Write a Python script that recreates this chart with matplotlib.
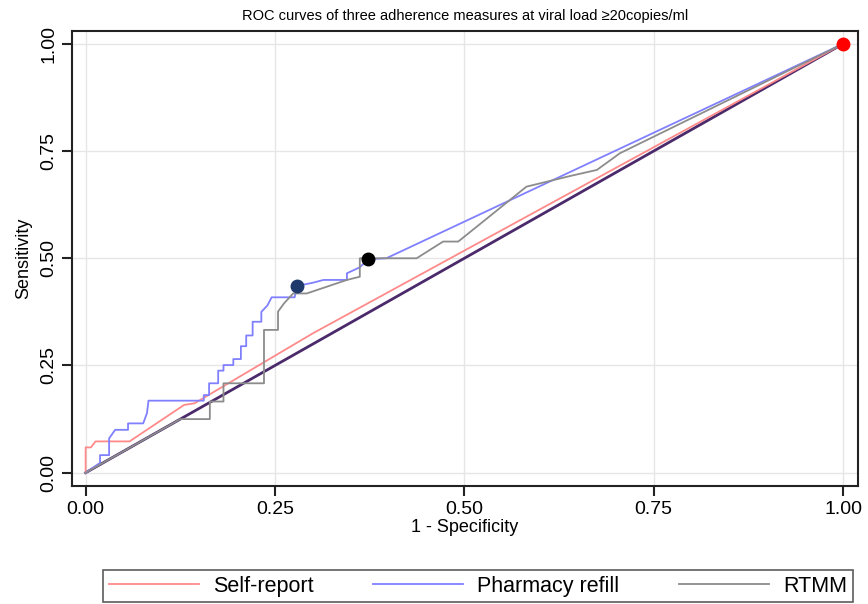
import matplotlib
matplotlib.use("Agg")
import matplotlib.pyplot as plt
from matplotlib import font_manager

# ROC points
self_fpr = [0.0, 0.0, 0.007, 0.013, 0.058, 0.13, 0.144, 0.30, 1.0]
self_tpr = [0.0, 0.059, 0.059, 0.073, 0.073, 0.158, 0.162, 0.325, 1.0]

pharm_fpr = [0.0, 0.019, 0.019, 0.031, 0.031, 0.039, 0.056, 0.056, 0.076, 0.081, 0.083,
             0.156, 0.156, 0.163, 0.163, 0.175, 0.175, 0.182, 0.182, 0.195, 0.195,
             0.205, 0.205, 0.212, 0.212, 0.2205, 0.2205, 0.232, 0.232, 0.240, 0.2456,
             0.276, 0.279, 0.30, 0.314, 0.345, 0.345, 0.362, 0.373, 0.397, 1.0]
pharm_tpr = [0.0, 0.023, 0.041, 0.041, 0.080, 0.100, 0.100, 0.115, 0.115, 0.139, 0.168,
             0.168, 0.181, 0.181, 0.2085, 0.2085, 0.238, 0.238, 0.251, 0.251, 0.265,
             0.265, 0.295, 0.295, 0.32, 0.32, 0.352, 0.352, 0.375, 0.390, 0.409,
             0.409, 0.4355, 0.443, 0.4495, 0.4495, 0.465, 0.479, 0.498, 0.50, 1.0]

rtmm_fpr = [0.0, 0.125, 0.164, 0.164, 0.182, 0.182, 0.2355, 0.2355, 0.254, 0.254, 0.262,
            0.274, 0.292, 0.345, 0.362, 0.362, 0.437, 0.472, 0.492, 0.582, 0.64,
            0.675, 0.7055, 1.0]
rtmm_tpr = [0.0, 0.125, 0.125, 0.166, 0.166, 0.2085, 0.2085, 0.333, 0.333, 0.3756, 0.395,
            0.418, 0.418, 0.4495, 0.457, 0.50, 0.50, 0.539, 0.539, 0.667, 0.692,
            0.706, 0.745, 1.0]

ref_line = [0.0, 1.0]

cut_fpr = [0.279, 0.373, 1.0]
cut_tpr = [0.4355, 0.498, 1.0]
cut_colors = ['#1f3a6b', '#000000', '#ff0000']

ticks = [0.0, 0.25, 0.5, 0.75, 1.0]
tick_labels = ['0.00', '0.25', '0.50', '0.75', '1.00']

installed = {f.name for f in font_manager.fontManager.ttflist}
fam = ['Liberation Sans Narrow'] if 'Liberation Sans Narrow' in installed else ['Liberation Sans']
plt.rcParams['font.family'] = fam + ['DejaVu Sans']

fig = plt.figure(figsize=(8.68, 6.04), dpi=100)
ax = fig.add_axes([72 / 868, 1 - 486 / 604, (858 - 72) / 868, (486 - 31) / 604])

ax.grid(True, color='#e6e6e6', linewidth=1.0, zorder=0)

ax.plot(ref_line, ref_line, color='#4b2a6b', linewidth=2.0, zorder=2)
ax.plot(self_fpr, self_tpr, color='#ff8a8a', linewidth=1.3, label='Self-report', zorder=3)
ax.plot(pharm_fpr, pharm_tpr, color='#8080ff', linewidth=1.3, label='Pharmacy refill', zorder=3)
ax.plot(rtmm_fpr, rtmm_tpr, color='#8c8c8c', linewidth=1.3, label='RTMM', zorder=3)

for x, y, c in zip(cut_fpr, cut_tpr, cut_colors):
    ax.plot([x], [y], 'o', color=c, markersize=9, zorder=5, clip_on=False)

ax.set_xlim(-0.018, 1.0198)
ax.set_ylim(-0.031, 1.030)
ax.set_xticks(ticks)
ax.set_xticklabels(tick_labels, fontsize=14)
ax.set_yticks(ticks)
ax.set_yticklabels(tick_labels, fontsize=14, rotation=90, va='center')
ax.tick_params(length=7, width=1.5, color='#222222')

for s in ax.spines.values():
    s.set_linewidth(1.5)
    s.set_color('#222222')

ax.set_xlabel('1 - Specificity', fontsize=13, labelpad=1)
ax.set_ylabel('Sensitivity', fontsize=13, labelpad=6)
ax.set_title('ROC curves of three adherence measures at viral load \u226520copies/ml',
             fontsize=10.5, pad=8)

leg = fig.legend(loc='lower center', bbox_to_anchor=(478 / 868, 2 / 604), ncol=3,
                 fontsize=15.5, handlelength=4.2, handletextpad=0.65, columnspacing=2.75,
                 frameon=True, fancybox=False, edgecolor='#333333', borderpad=0.25,
                 borderaxespad=0)
leg.get_frame().set_linewidth(1.2)

fig.savefig('out.png', dpi=100)
